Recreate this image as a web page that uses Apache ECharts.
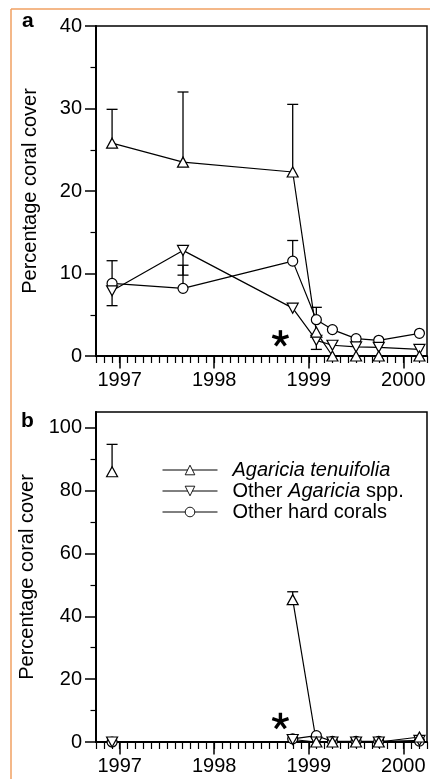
<!DOCTYPE html>
<html>
<head>
<meta charset="utf-8">
<script src="https://cdn.jsdelivr.net/npm/echarts@6/dist/echarts.min.js"></script>
<style>
  html, body { margin: 0; padding: 0; background: #fff; }
  #main { width: 430px; height: 779px; }
</style>
</head>
<body>
<div id="main"></div>
<script>
'use strict';

// sampling dates (decimal years)
var dates = [1996.92, 1997.67, 1998.83, 1999.08, 1999.25, 1999.5, 1999.74, 2000.17];
var yearTicks = [1997, 1998, 1999, 2000];
var names = ['Agaricia tenuifolia', 'Other Agaricia spp.', 'Other hard corals'];

// panel a
var aTen = [25.8, 23.5, 22.3, 2.9, 0, 0, 0, 0];
var aOther = [7.9, 12.8, 5.8, 1.9, 1.3, 1.1, 1.05, 0.8];
var aHard = [8.8, 8.2, 11.5, 4.4, 3.2, 2.1, 1.9, 2.75];
var aTenErr = [29.9, 32.0, 30.5, null, null, null, null, null];
var aOtherErr = [6.1, 9.8, null, 0.8, null, null, null, null];
var aHardErr = [11.55, 11.0, 14.0, 5.9, null, null, null, null];
var aTicks = [0, 10, 20, 30, 40];
var aMinor = [5, 15, 25, 35];
var starA = [1998.70, 2.1];

// panel b
var bTen = [86, null, 45.3, 0, 0, 0, 0, 1.6];
var bOther = [0, null, 0.8, 0, 0, 0, 0, 0.5];
var bHard = [0, null, 1.0, 2.0, 0.2, 0.2, 0.2, 0.3];
var bTenErr = [94.7, null, 47.8, null, null, null, null, null];
var bTicks = [0, 20, 40, 60, 80, 100];
var bMinor = [10, 30, 50, 70, 90];
var starB = [1998.70, 6.6];

var FONT = 'Liberation Sans';
var X_MIN = 1996.75, X_MAX = 2000.25;

var monthTicks = [];
for (var m = 0; m <= 42; m++) {
  monthTicks.push(Math.round((X_MIN + m / 12) * 10000) / 10000);
}

function pairs(vals) {
  return vals.map(function(v, i) { return [dates[i], v]; });
}

function errData(vals, errs) {
  var out = [];
  errs.forEach(function(e, i) {
    if (e !== null && vals[i] !== null) out.push([dates[i], vals[i], e]);
  });
  return out;
}

function renderErr(params, api) {
  var p0 = api.coord([api.value(0), api.value(1)]);
  var p1 = api.coord([api.value(0), api.value(2)]);
  var st = { stroke: '#000', lineWidth: 1.3 };
  return {
    type: 'group',
    children: [
      { type: 'line', shape: { x1: p0[0], y1: p0[1], x2: p1[0], y2: p1[1] }, style: st },
      { type: 'line', shape: { x1: p1[0] - 5.5, y1: p1[1], x2: p1[0] + 5.5, y2: p1[1] }, style: st }
    ]
  };
}

function renderStar(params, api) {
  var c = api.coord([api.value(0), api.value(1)]);
  var kids = [];
  [-90, -18, -162, 54, 126].forEach(function(a) {
    var r = a * Math.PI / 180;
    kids.push({
      type: 'line',
      shape: { x1: c[0], y1: c[1], x2: c[0] + 8.5 * Math.cos(r), y2: c[1] + 8.5 * Math.sin(r) },
      style: { stroke: '#000', lineWidth: 3.4 }
    });
  });
  return { type: 'group', children: kids };
}

function xAxes(grid) {
  return [
    {
      type: 'value', gridIndex: grid, position: 'bottom', min: X_MIN, max: X_MAX,
      axisLine: { show: true, onZero: false, lineStyle: { color: '#000', width: 2 } },
      axisTick: { show: true, customValues: yearTicks, length: 12.5, lineStyle: { color: '#000', width: 1.5 } },
      axisLabel: {
        customValues: yearTicks, margin: 14, color: '#000', fontSize: 20, fontFamily: FONT,
        formatter: function(v) { return String(Math.round(v)); }
      },
      splitLine: { show: false }
    },
    {
      type: 'value', gridIndex: grid, position: 'bottom', min: X_MIN, max: X_MAX,
      axisLine: { show: false, onZero: false },
      axisTick: { show: true, customValues: monthTicks, length: 7, lineStyle: { color: '#000', width: 1.2 } },
      axisLabel: { show: false },
      splitLine: { show: false }
    }
  ];
}

function yAxes(grid, max, ticks, minor) {
  return [
    {
      type: 'value', gridIndex: grid, position: 'left', min: 0, max: max,
      name: 'Percentage coral cover', nameLocation: 'middle', nameGap: 56,
      nameTextStyle: { color: '#000', fontSize: 20, fontFamily: FONT },
      axisLine: { show: true, onZero: false, lineStyle: { color: '#000', width: 2 } },
      axisTick: { show: true, customValues: ticks, length: 11, lineStyle: { color: '#000', width: 1.5 } },
      axisLabel: { customValues: ticks, margin: 14, color: '#000', fontSize: 20, fontFamily: FONT },
      splitLine: { show: false }
    },
    {
      type: 'value', gridIndex: grid, position: 'left', min: 0, max: max,
      axisLine: { show: false, onZero: false },
      axisTick: { show: true, customValues: minor, length: 5.5, lineStyle: { color: '#000', width: 1.2 } },
      axisLabel: { show: false },
      splitLine: { show: false }
    }
  ];
}

function lineSeries(name, vals, axis, sym, rot) {
  return {
    type: 'line', name: name, data: pairs(vals),
    xAxisIndex: axis, yAxisIndex: axis, z: 3,
    symbol: sym, symbolRotate: rot || 0,
    symbolSize: sym === 'circle' ? 10 : [11, 10],
    showAllSymbol: true,
    lineStyle: { color: '#000', width: 1.2 },
    itemStyle: { color: '#fff', borderColor: '#000', borderWidth: 1.2 },
    emphasis: { disabled: true },
    animation: false
  };
}

function errSeries(vals, errs, axis) {
  return {
    type: 'custom', xAxisIndex: axis, yAxisIndex: axis, z: 2,
    data: errData(vals, errs), renderItem: renderErr,
    encode: { x: 0, y: [1, 2] }, silent: true, animation: false
  };
}

function starSeries(pt, axis) {
  return {
    type: 'custom', xAxisIndex: axis, yAxisIndex: axis, z: 4,
    data: [pt], renderItem: renderStar, silent: true, animation: false
  };
}

var chart = echarts.init(document.getElementById('main'));

chart.setOption({
  backgroundColor: '#fff',
  animation: false,
  grid: [
    { left: 96, top: 26, width: 331, height: 330, show: true, borderColor: '#000', borderWidth: 1.5 },
    { left: 96, top: 412, width: 331, height: 330, show: true, borderColor: '#000', borderWidth: 1.5 }
  ],
  xAxis: xAxes(0).concat(xAxes(1)),
  yAxis: yAxes(0, 40, aTicks, aMinor).concat(yAxes(1, 105, bTicks, bMinor)),
  legend: {
    data: names, orient: 'vertical', left: 157, top: 455,
    itemWidth: 55, itemHeight: 12, itemGap: 1,
    selectedMode: false,
    lineStyle: { width: 1 },
    itemStyle: { borderWidth: 0.9 },
    textStyle: {
      color: '#000', fontSize: 20, fontFamily: FONT, lineHeight: 20, padding: [0, 0, 0, 10],
      rich: {
        i: { fontStyle: 'italic', fontSize: 20, fontFamily: FONT, color: '#000', lineHeight: 20 },
        n: { fontSize: 20, fontFamily: FONT, color: '#000', lineHeight: 20 }
      }
    },
    formatter: function(name) {
      if (name === names[0]) return '{i|Agaricia tenuifolia}';
      if (name === names[1]) return '{n|Other }{i|Agaricia}{n| spp.}';
      return '{n|Other hard corals}';
    }
  },
  graphic: [
    { type: 'line', shape: { x1: 11, y1: 9, x2: 430, y2: 9 }, style: { stroke: '#f0a062', lineWidth: 1.5 } },
    { type: 'line', shape: { x1: 11, y1: 9, x2: 11, y2: 779 }, style: { stroke: '#f0a062', lineWidth: 1.5 } },
    { type: 'text', left: 22, top: 11, style: { text: 'a', fontSize: 21, fontWeight: 'bold', fontFamily: FONT, fill: '#000' } },
    { type: 'text', left: 21, top: 411, style: { text: 'b', fontSize: 21, fontWeight: 'bold', fontFamily: FONT, fill: '#000' } }
  ],
  series: [
    errSeries(aTen, aTenErr, 0),
    errSeries(aOther, aOtherErr, 0),
    errSeries(aHard, aHardErr, 0),
    lineSeries(names[2], aHard, 0, 'circle'),
    lineSeries(names[1], aOther, 0, 'triangle', 180),
    lineSeries(names[0], aTen, 0, 'triangle'),
    starSeries(starA, 0),
    errSeries(bTen, bTenErr, 2),
    lineSeries(names[2], bHard, 2, 'circle'),
    lineSeries(names[1], bOther, 2, 'triangle', 180),
    lineSeries(names[0], bTen, 2, 'triangle'),
    starSeries(starB, 2)
  ]
});
</script>
</body>
</html>
